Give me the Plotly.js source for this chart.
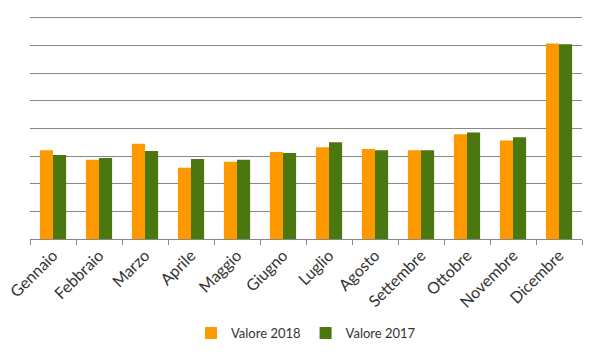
<!DOCTYPE html>
<html>
<head>
<meta charset="utf-8">
<script src="https://cdn.plot.ly/plotly-3.0.1.min.js"></script>
<style>html,body{margin:0;padding:0;background:#fff;}#chart{width:600px;height:360px;}</style>
</head>
<body>
<div id="chart"></div>
<script>
const months = ["Gennaio","Febbraio","Marzo","Aprile","Maggio","Giugno","Luglio","Agosto","Settembre","Ottobre","Novembre","Dicembre"];
const valore2018 = [3.21, 2.87, 3.44, 2.58, 2.79, 3.15, 3.32, 3.25, 3.21, 3.79, 3.56, 7.07];
const valore2017 = [3.04, 2.93, 3.18, 2.89, 2.87, 3.11, 3.50, 3.21, 3.21, 3.85, 3.68, 7.04];

const traces = [
  {type:"bar", name:"Valore 2018", x:months, y:valore2018, marker:{color:"#FF9900"}, hoverinfo:"skip"},
  {type:"bar", name:"Valore 2017", x:months, y:valore2017, marker:{color:"#4B7710"}, hoverinfo:"skip"}
];
const layout = {
  width:600, height:360,
  margin:{l:30, r:18, t:15, b:118},
  paper_bgcolor:"#fff", plot_bgcolor:"#fff",
  barmode:"group", bargap:0.43, bargroupgap:0,
  font:{family:"Lato, 'Open Sans', sans-serif", size:12, color:"#333"},
  xaxis:{
    type:"category", tickangle:-45, showline:true, linecolor:"#888", linewidth:1,
    ticks:"outside", tickson:"boundaries", ticklen:5, tickcolor:"#888",
    showgrid:false, tickfont:{size:16, color:"#333"}
  },
  yaxis:{
    range:[0,8.1], tickvals:[1,2,3,4,5,6,7,8], showticklabels:false, showgrid:true, gridcolor:"#888", gridwidth:1,
    zeroline:false, showline:false, ticks:""
  },
  showlegend:true,
  legend:{orientation:"h", x:0.5, xanchor:"center", y:-0.42, yanchor:"middle", itemwidth:30, font:{size:13, color:"#333"}}
};
Plotly.newPlot("chart", traces, layout, {staticPlot:true, displayModeBar:false});
</script>
</body>
</html>
